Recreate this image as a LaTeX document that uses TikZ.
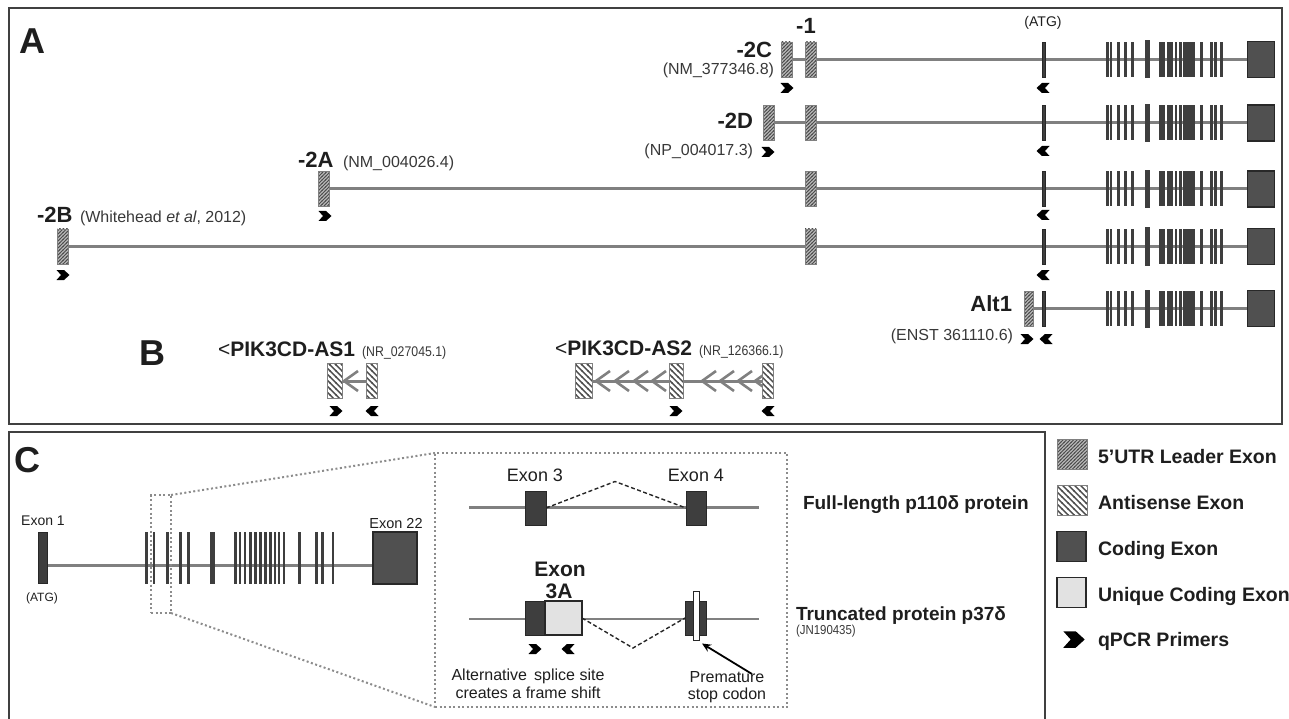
\documentclass[tikz,border=0pt]{standalone}
\usepackage{fontspec}
\setmainfont{Liberation Sans}
\newfontfamily\narrowsans[FakeStretch=0.88]{Liberation Sans}
\usetikzlibrary{patterns,backgrounds,arrows.meta}

\definecolor{lineg}{RGB}{128,128,128}
\definecolor{exd}{RGB}{62,62,62}
\definecolor{exb}{RGB}{40,40,40}
\definecolor{bigfill}{RGB}{80,80,80}
\definecolor{hatchg}{RGB}{185,185,185}
\definecolor{dotg}{RGB}{140,140,140}
\definecolor{uniq}{RGB}{226,226,226}
\definecolor{txt}{RGB}{30,30,30}

\pgfdeclarepatternformonly{leadpat}{\pgfqpoint{-1pt}{-1pt}}{\pgfqpoint{4.5pt}{4.5pt}}{\pgfqpoint{3.5pt}{3.5pt}}{%
  \pgfsetlinewidth{0.9pt}%
  \pgfpathmoveto{\pgfqpoint{-0.5pt}{-0.5pt}}\pgfpathlineto{\pgfqpoint{4pt}{4pt}}%
  \pgfusepath{stroke}}
\pgfdeclarepatternformonly{antipat}{\pgfqpoint{-1pt}{-1pt}}{\pgfqpoint{7pt}{7pt}}{\pgfqpoint{6pt}{6pt}}{%
  \pgfsetlinewidth{1.4pt}%
  \pgfpathmoveto{\pgfqpoint{-0.5pt}{6.5pt}}\pgfpathlineto{\pgfqpoint{6.5pt}{-0.5pt}}%
  \pgfusepath{stroke}}

\newcommand\fs[1]{\fontsize{#1}{#1}\selectfont}
\newcommand\genecluster[1]{%
  \foreach \l/\r in {1106/1108.7,1109.5/1112.3,1117.3/1120,1124/1126.7,1131.3/1134,1159/1165,1166.5/1172.5,1174.5/1177,1178.5/1181.5,1183/1195,1200/1203,1210/1212.7,1214/1216.7,1220/1223}
    {\fill[exd] (\l,#1-17.5) rectangle (\r,#1+17.5);}
  \fill[exd] (1145,#1-19) rectangle (1150,#1+19);}
\newcommand\asch[2]{\draw[aschev] (#1+14,#2-10) -- (#1,#2) -- (#1+14,#2+10);}

\tikzset{
  every node/.style={inner sep=0pt, outer sep=0pt, text=txt},
  lead/.style={rectangle, draw=lineg, line width=0.8pt, preaction={fill=hatchg}, pattern=leadpat, pattern color=black!70, minimum width=11pt, minimum height=35pt},
  anti/.style={rectangle, draw=lineg, line width=0.8pt, preaction={fill=white}, pattern=antipat, pattern color=black!70, minimum height=35pt},
  cod/.style={rectangle, draw=exb, fill=exd, line width=0.6pt},
  atgbar/.style={cod, minimum width=3pt, minimum height=35pt},
  bigex/.style={rectangle, draw=exb, fill=bigfill, line width=1.8pt, minimum width=27pt, minimum height=36pt},
  uniqex/.style={rectangle, draw=exb, fill=uniq, line width=1.4pt},
  gline/.style={draw=lineg, line width=3pt},
  cline/.style={draw=lineg, line width=2.6pt},
  aschev/.style={draw=lineg, line width=2.6pt, line join=miter},
  frameline/.style={draw=black!75, line width=1.4pt},
  zoomdot/.style={draw=dotg, line width=2pt, dash pattern=on 2pt off 2.5pt},
  splice/.style={draw=black!85, line width=1.4pt, dash pattern=on 4pt off 2.5pt},
  panel/.style={font=\fs{36}\bfseries, anchor=base west},
  lab/.style={font=\fs{22}\bfseries},
  acc/.style={font=\fs{16}, text=black!78},
  nacc/.style={font=\narrowsans\fs{14}, text=black!78, anchor=base west},
  leg/.style={font=\fs{19.5}\bfseries, anchor=base west},
  trans/.style={font=\fs{19}\bfseries, anchor=base west},
  ann/.style={font=\fs{16}, anchor=base},
  fwdp/.pic={\fill[black] (-6.5,-5) -- (1,-5) -- (6.5,0) -- (1,5) -- (-6.5,5) -- (-2,0) -- cycle;},
  revp/.pic={\fill[black] (6.5,-5) -- (-1,-5) -- (-6.5,0) -- (-1,5) -- (6.5,5) -- (2,0) -- cycle;},
}

\begin{document}
\begin{tikzpicture}[x=1pt,y=-1pt]
\useasboundingbox (0,0) rectangle (1289,719);

% ---------------- frames
\draw[frameline] (9,8) rectangle (1282,424);
\draw[frameline] (9,432) rectangle (1045,745);

\node[panel] (lA) at (19,54) {A};
\node[panel] (lB) at (139,365) {B};
\node[panel] (lC) at (14,472) {C};

% ---------------- panel A exons
\node[lead] (x2C) at (786.5,59.5) {};
\node[lead] (x1a) at (811,59.5) {};
\node[atgbar] (atg1) at (1043.5,59.5) {};
\node[bigex] (big1) at (1261,59.5) {};

\node[lead] (x2D) at (768.5,123) {};
\node[lead] (x1b) at (811,123) {};
\node[atgbar] (atg2) at (1043.5,123) {};
\node[bigex] (big2) at (1261,123) {};

\node[lead] (x2A) at (323.5,189) {};
\node[lead] (x1c) at (811,189) {};
\node[atgbar] (atg3) at (1043.5,189) {};
\node[bigex] (big3) at (1261,189) {};

\node[lead] (x2B) at (62.5,246.5) {};
\node[lead] (x1d) at (810.5,246.5) {};
\node[atgbar] (atg4) at (1043.5,246.5) {};
\node[bigex] (big4) at (1261,246.5) {};

\node[lead, minimum width=9pt] (xalt) at (1028.5,308.5) {};
\node[atgbar] (atg5) at (1044,308.5) {};
\node[bigex] (big5) at (1261,308.5) {};

\genecluster{59.5}
\genecluster{123}
\genecluster{189}
\genecluster{246.5}
\genecluster{308.5}

\begin{pgfonlayer}{background}
\draw[gline] (x2C.center) -- (big1.center);
\draw[gline] (x2D.center) -- (big2.center);
\draw[gline] (x2A.center) -- (big3.center);
\draw[gline] (x2B.center) -- (big4.center);
\draw[gline] (xalt.center) -- (big5.center);
\end{pgfonlayer}

% labels panel A
\node[lab, anchor=base east] (t2C) at (772,58) {-2C};
\node[acc, anchor=base east] (c2C) at (774,74.5) {(NM\_377346.8)};
\node[lab, anchor=base] (t1) at (806,34) {-1};
\node[font=\fs{14}, anchor=base] (tatg) at (1043,27) {(ATG)};
\node[lab, anchor=base east] (t2D) at (753,129) {-2D};
\node[acc, anchor=base east] (c2D) at (753,156) {(NP\_004017.3)};
\node[lab, anchor=base west] (t2A) at (298,168) {-2A};
\node[acc, anchor=base west] (c2A) at (343,168) {(NM\_004026.4)};
\node[lab, anchor=base west] (t2B) at (37,223) {-2B};
\node[acc, anchor=base west] (c2B) at (80,223) {(Whitehead \textit{et al}, 2012)};
\node[lab, anchor=base east] (talt) at (1012,311) {Alt1};
\node[acc, anchor=base east] (calt) at (1013,340) {(ENST 361110.6)};

% primers panel A
\pic at (787,88) {fwdp};   \pic at (1043,88) {revp};
\pic at (768,152) {fwdp};  \pic at (1043,151) {revp};
\pic at (325,216) {fwdp};  \pic at (1043,215) {revp};
\pic at (63,275) {fwdp};   \pic at (1043,275) {revp};
\pic at (1027,339) {fwdp}; \pic at (1046,339) {revp};

% ---------------- panel B
\node[font=\fs{21}, anchor=base west] (lt1) at (218,356) {<\bfseries PIK3CD-AS1};
\node[nacc] (ac1) at ([xshift=7pt]lt1.base east) {(NR\_027045.1)};
\node[font=\fs{21}, anchor=base west] (lt2) at (555,355) {<\bfseries PIK3CD-AS2};
\node[nacc] (ac2) at ([xshift=7pt]lt2.base east) {(NR\_126366.1)};

\node[anti, minimum width=15pt] (a1L) at (334.5,381) {};
\node[anti, minimum width=11pt] (a1R) at (372,381) {};
\node[anti, minimum width=17pt] (a2L) at (583.5,381) {};
\node[anti, minimum width=14pt] (a2M) at (676.5,381) {};
\node[anti, minimum width=11pt] (a2R) at (767.5,381) {};

\begin{pgfonlayer}{background}
\draw[gline] (a1L.center) -- (a1R.center);
\draw[gline] (a2L.center) -- (a2R.center);
\asch{344}{381}
\asch{596}{381}\asch{615}{381}\asch{634}{381}\asch{652}{381}
\asch{702}{381}\asch{720}{381}\asch{738}{381}\asch{755}{381}
\end{pgfonlayer}

\pic at (336,411) {fwdp}; \pic at (372,411) {revp};
\pic at (676,411) {fwdp}; \pic at (768,411) {revp};

% ---------------- panel C gene
\node[cod, minimum width=9pt, minimum height=51pt] (c1) at (42.5,558) {};
\node[bigex, minimum width=44pt, minimum height=52pt, line width=1.6pt] (c22) at (395,558) {};
\begin{pgfonlayer}{background}
\draw[cline] ([yshift=-7.5pt]c1.center) -- ([yshift=-7.5pt]c22.center);
\end{pgfonlayer}
\foreach \l/\w in {145/2.6,152.7/2.6,166/2.6,179.3/2.6,187.3/2.6,210/5,234/2.6,238.5/2.6,243.5/2.6,249/2.6,254/2.6,259.3/2.6,264.3/2.6,269.3/2.6,273.5/2.6,277.5/2.6,282.7/2.6,298.3/2.6,315/2.6,321/2.6,331.7/2.6}
  {\fill[exd] (\l,532) rectangle (\l+\w,584);}

\node[font=\fs{14}, anchor=base] (tex1) at (43,525) {Exon 1};
\node[font=\fs{12}, anchor=base] (tatgc) at (42,601) {(ATG)};
\node[font=\fs{14.5}, anchor=base] (tex22) at (396,528) {Exon 22};

% zoom
\node[zoomdot, rectangle, minimum width=20pt, minimum height=118pt] (zs) at (161,554) {};
\node[zoomdot, rectangle, minimum width=352pt, minimum height=254pt] (zb) at (611,580) {};
\draw[zoomdot] (zs.north east) -- (zb.north west);
\draw[zoomdot] (zs.south east) -- (zb.south west);

% inset row 1
\coordinate (i1L) at (469,507.5);
\coordinate (i1R) at (759,507.5);
\node[cod, minimum width=21pt, minimum height=34pt] (e3) at (535.5,508) {};
\node[cod, minimum width=20pt, minimum height=34pt] (e4) at (696,508) {};
\coordinate (pk1) at (615,481.5);
\begin{pgfonlayer}{background}
\draw[cline] (i1L) -- (i1R);
\end{pgfonlayer}
\draw[splice] (e3.east) -- (pk1) -- (e4.west);
\node[font=\fs{18}, anchor=base] (te3) at (535,481) {Exon 3};
\node[font=\fs{18}, anchor=base] (te4) at (696,481) {Exon 4};

% inset row 2
\coordinate (i2L) at (469,619);
\coordinate (i2R) at (759,619);
\node[cod, minimum width=20pt, minimum height=34pt] (e3b) at (535,618) {};
\node[uniqex, minimum width=37pt, minimum height=34pt] (e3a) at (563.5,618) {};
\node[cod, minimum width=21pt, minimum height=34pt] (e4b) at (695.5,618) {};
\node[rectangle, draw=exb, fill=white, line width=1pt, minimum width=6pt, minimum height=49pt] (stopx) at (696,616) {};
\coordinate (pk2) at (633,648);
\begin{pgfonlayer}{background}
\draw[cline] (i2L) -- (i2R);
\end{pgfonlayer}
\draw[splice] (e3a.east) -- (pk2) -- (e4b.west);
\node[font=\fs{21}\bfseries, anchor=base] (tex3a) at (560,576) {Exon};
\node[font=\fs{21}\bfseries, anchor=base] (tex3b) at (559,598) {3A};
\pic at (535,649) {fwdp};
\pic at (568,649) {revp};
\coordinate (stoptail) at (752,674);
\draw[black, line width=1.8pt, -{Stealth[length=9pt,width=8pt]}] (stoptail) -- ([xshift=3pt,yshift=-3pt]stopx.south east);

\node[ann] (an1) at (528,680) {Alternative\, splice site};
\node[ann] (an2) at (528,698) {creates a frame shift};
\node[ann] (an3) at (727,682) {Premature};
\node[ann] (an4) at (727,699) {stop codon};

\node[trans] (tfull) at (803,509) {Full-length p110δ protein};
\node[trans] (ttrunc) at (796,620) {Truncated protein p37δ};
\node[font=\narrowsans\fs{13}, text=black!78, anchor=base west] (tjn) at (796,634) {(JN190435)};

% ---------------- legend
\node[lead, minimum width=30pt, minimum height=30pt] (lg1) at (1072,454) {};
\node[anti, minimum width=30pt, minimum height=30pt] (lg2) at (1072,500) {};
\node[bigex, minimum width=29pt, minimum height=30pt] (lg3) at (1071.5,546.5) {};
\node[uniqex, minimum width=29pt, minimum height=30pt] (lg4) at (1071.5,592.5) {};
\pic[scale=1.65] at (1074,639.5) {fwdp};
\node[leg] (lt1x) at (1098,463) {5’UTR Leader Exon};
\node[leg] (lt2x) at (1098,509) {Antisense Exon};
\node[leg] (lt3x) at (1098,555) {Coding Exon};
\node[leg] (lt4x) at (1098,601) {Unique Coding Exon};
\node[leg] (lt5x) at (1098,646) {qPCR Primers};
\end{tikzpicture}
\end{document}
